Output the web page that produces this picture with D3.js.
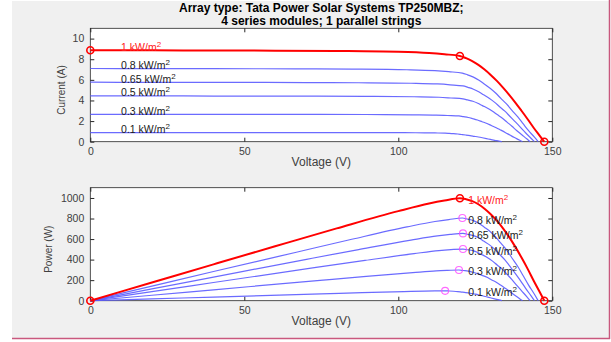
<!DOCTYPE html>
<html><head><meta charset="utf-8">
<script src="https://cdn.jsdelivr.net/npm/d3@7"></script>
<style>
html,body{margin:0;padding:0;background:#fff;}
svg{display:block;font-family:"Liberation Sans",Arial,Helvetica,sans-serif;}
</style></head>
<body><svg id="c" width="611" height="342"></svg>
<script>
// ---------- data ----------
const titleLines = ["Array type: Tata Power Solar Systems TP250MBZ;", "4 series modules; 1 parallel strings"];
const irradiance = [1, 0.8, 0.65, 0.5, 0.3, 0.1];
const irrLabels = ["1 kW/m", "0.8 kW/m", "0.65 kW/m", "0.5 kW/m", "0.3 kW/m", "0.1 kW/m"];

const V_1000 = [147.4,146,144,142,140,138,136,134,132,130,128,126,124,122,120,115,110,100,80,60,40,20,0];
const I_1000 = [0,0.55,1.33,2.18,3.0,3.8,4.55,5.25,5.9,6.48,7.0,7.45,7.82,8.10,8.32,8.48,8.60,8.72,8.80,8.83,8.85,8.86,8.87];
const P_1000 = [0,80,192,310,420,524,619,704,779,842,896,939,970,988,998,975,946,872,704,530,354,177,0];

const V_800 = [145.4,144.2,142.3,140.5,138.8,136.9,135.2,133.3,131.6,129.8,127.9,126.2,124.4,122.5,120.8,116.4,111.9,102.8,84.9,66.9,40,20,0];
const I_800 = [0,0.44,1.07,1.75,2.40,3.04,3.64,4.20,4.72,5.19,5.60,5.96,6.26,6.48,6.66,6.79,6.89,6.98,7.04,7.06,7.09,7.09,7.10];
const P_800 = [0,63,152,246,333,416,492,560,621,674,716,752,779,794,805,790,771,718,598,472,284,142,0];

const V_650 = [144.2,143.0,141.3,139.6,137.9,136.2,134.6,132.8,131.2,129.5,127.7,126.1,124.4,122.6,121.0,116.8,112.7,104.1,87.1,70.2,40,20,0];
const I_650 = [0,0.36,0.87,1.42,1.95,2.47,2.96,3.42,3.84,4.22,4.55,4.85,5.09,5.27,5.41,5.52,5.60,5.67,5.72,5.74,5.76,5.76,5.77];
const P_650 = [0,51,123,198,269,336,398,454,504,546,581,612,633,646,655,645,631,590,498,403,230,115,0];

const V_500 = [142.8,141.7,140.1,138.4,136.9,135.3,133.8,132.1,130.6,129.0,127.3,125.8,124.2,122.5,121.0,117.1,113.2,105.1,89.2,73.3,40,20,0];
const I_500 = [0,0.28,0.67,1.09,1.50,1.90,2.28,2.63,2.95,3.25,3.50,3.73,3.92,4.05,4.16,4.24,4.31,4.36,4.40,4.42,4.43,4.44,4.44];
const P_500 = [0,40,94,151,205,257,305,347,385,419,446,469,487,496,503,497,488,458,392,324,177,89,0];

const V_300 = [140.3,139.3,137.7,136.2,134.7,133.2,131.8,130.2,128.8,127.2,125.7,124.2,122.7,121.1,119.7,116.0,112.3,104.7,89.6,74.6,40,20,0];
const I_300 = [0,0.16,0.40,0.65,0.90,1.14,1.36,1.57,1.77,1.94,2.10,2.23,2.35,2.43,2.50,2.54,2.58,2.61,2.64,2.65,2.65,2.66,2.66];
const P_300 = [0,22,55,89,121,152,179,204,228,247,264,277,288,294,299,295,290,273,237,198,106,53,0];

const V_100 = [133.6,132.7,131.3,129.9,128.6,127.3,126.0,124.6,123.3,121.9,120.5,119.3,117.9,116.5,115.2,111.9,108.6,101.8,88.3,74.9,40,20,0];
const I_100 = [0,0.055,0.133,0.218,0.300,0.380,0.455,0.525,0.590,0.648,0.700,0.745,0.782,0.810,0.832,0.848,0.860,0.872,0.880,0.883,0.885,0.886,0.887];
const P_100 = [0,7.3,17.5,28.3,38.6,48.4,57.3,65.4,72.7,79.0,84.4,88.9,92.2,94.4,95.8,94.9,93.4,88.8,77.7,66.1,35.4,17.7,0];

const mppV = [120.0, 120.8, 121.0, 121.0, 119.7, 115.2];
const mppI = [8.32, 6.66, 5.41, 4.16, 2.50, 0.832];
const mppP = [998, 805, 655, 503, 299, 96];
const Isc1000 = 8.87, Voc1000 = 147.4;

const voltageTicks = [0, 50, 100, 150];
const currentTicks = [0, 2, 4, 6, 8, 10];
const powerTicks = [0, 200, 400, 600, 800, 1000];

// ---------- build ----------
const Vs = [V_1000, V_800, V_650, V_500, V_300, V_100];
const Is = [I_1000, I_800, I_650, I_500, I_300, I_100];
const Ps = [P_1000, P_800, P_650, P_500, P_300, P_100];

const svg = d3.select("#c");
svg.append("rect").attr("x", 12).attr("y", 1).attr("width", 597).attr("height", 337).attr("fill", "#f0f0f0");
svg.append("line").attr("x1", 609.5).attr("x2", 609.5).attr("y1", 0).attr("y2", 339).attr("stroke", "#c9587e").attr("stroke-width", 1.5);
svg.append("line").attr("x1", 12).attr("x2", 610).attr("y1", 338.5).attr("y2", 338.5).attr("stroke", "#c9587e").attr("stroke-width", 1.5);

const x0 = 90.3, x1 = 552.3;
const x = d3.scaleLinear().domain([0, 150]).range([x0, x1]);
const yI = d3.scaleLinear().domain([0, 11]).range([141.7, 28.3]);
const yP = d3.scaleLinear().domain([0, 1100]).range([300.7, 187.7]);

const axisColor = "#262626";
const tickColor = "#404040";
const blue = "#5b5bff";
const fmt = d3.format("d");

function drawAxes(y, yTicks, yLabel, ylabX, ylabDy) {
  const g = svg.append("g");
  const [yb, yt] = y.range();
  g.append("rect").attr("x", x0).attr("y", yt).attr("width", x1 - x0).attr("height", yb - yt).attr("fill", "#fff");
  const ax = d3.axisBottom(x).tickValues(voltageTicks).tickFormat(fmt).tickSizeInner(-4).tickSizeOuter(0).tickPadding(6);
  g.append("g").attr("transform", `translate(0,${yb})`).call(ax).call(s => {
    s.select(".domain").remove();
    s.selectAll("line").attr("stroke", axisColor);
    s.selectAll("text").attr("fill", tickColor).attr("font-size", 10.5).attr("font-family", "Liberation Sans, Arial, sans-serif");
  });
  const axT = d3.axisTop(x).tickValues(voltageTicks).tickSizeInner(-4).tickSizeOuter(0).tickFormat("");
  g.append("g").attr("transform", `translate(0,${yt})`).call(axT).call(s => {
    s.select(".domain").remove(); s.selectAll("line").attr("stroke", axisColor);
  });
  const ay = d3.axisLeft(y).tickValues(yTicks).tickFormat(fmt).tickSizeInner(-4).tickSizeOuter(0).tickPadding(6);
  g.append("g").attr("transform", `translate(${x0},0)`).call(ay).call(s => {
    s.select(".domain").remove();
    s.selectAll("line").attr("stroke", axisColor);
    s.selectAll("text").attr("fill", tickColor).attr("font-size", 10.5).attr("font-family", "Liberation Sans, Arial, sans-serif");
  });
  const ayR = d3.axisRight(y).tickValues(yTicks).tickSizeInner(-4).tickSizeOuter(0).tickFormat("");
  g.append("g").attr("transform", `translate(${x1},0)`).call(ayR).call(s => {
    s.select(".domain").remove(); s.selectAll("line").attr("stroke", axisColor);
  });
  g.append("rect").attr("x", x0).attr("y", yt).attr("width", x1 - x0).attr("height", yb - yt)
    .attr("fill", "none").attr("stroke", axisColor).attr("stroke-width", 0.8);
  g.append("text").attr("x", (x0 + x1) / 2).attr("y", yb + 24).attr("text-anchor", "middle")
    .attr("font-size", 12).attr("fill", tickColor).text("Voltage (V)");
  g.append("text").attr("transform", `translate(${ylabX},${(yb + yt) / 2 + ylabDy}) rotate(-90)`)
    .attr("text-anchor", "middle").attr("font-size", 10).attr("fill", tickColor).text(yLabel);
  return g;
}

const gTop = drawAxes(yI, currentTicks, "Current (A)", 65, 5);
const gBot = drawAxes(yP, powerTicks, "Power (W)", 52, 5);

const lineIV = d3.line().curve(d3.curveMonotoneX);
const lineTop = (k) => lineIV(Vs[k].map((v, i) => [x(v), yI(Is[k][i])]).sort((a, b) => a[0] - b[0]));
const lineBot = (k) => lineIV(Vs[k].map((v, i) => [x(v), yP(Ps[k][i])]).sort((a, b) => a[0] - b[0]));

for (let k = irradiance.length - 1; k >= 1; k--) {
  gTop.append("path").attr("d", lineTop(k)).attr("fill", "none").attr("stroke", blue).attr("stroke-opacity", 0.9).attr("stroke-width", 1.2);
  gBot.append("path").attr("d", lineBot(k)).attr("fill", "none").attr("stroke", blue).attr("stroke-opacity", 0.9).attr("stroke-width", 1.2);
}
gTop.append("path").attr("d", lineTop(0)).attr("fill", "none").attr("stroke", "#ff0000").attr("stroke-width", 2);
gBot.append("path").attr("d", lineBot(0)).attr("fill", "none").attr("stroke", "#ff0000").attr("stroke-width", 2);

const redTop = [[0, Isc1000], [mppV[0], mppI[0]], [Voc1000, 0]];
redTop.forEach(d => gTop.append("circle").attr("cx", x(d[0])).attr("cy", yI(d[1])).attr("r", 3.5)
  .attr("fill", "none").attr("stroke", "#ff0000").attr("stroke-width", 1.6));
const redBot = [[0, 0], [mppV[0], mppP[0]], [Voc1000, 0]];
redBot.forEach(d => gBot.append("circle").attr("cx", x(d[0])).attr("cy", yP(d[1])).attr("r", 3.5)
  .attr("fill", "none").attr("stroke", "#ff0000").attr("stroke-width", 1.6));
for (let k = 1; k < irradiance.length; k++) {
  gBot.append("circle").attr("cx", x(mppV[k])).attr("cy", yP(mppP[k])).attr("r", 3.5)
    .attr("fill", "none").attr("stroke", "#ff44ff").attr("stroke-opacity", 0.8).attr("stroke-width", 1.1);
}

function label(g, tx, ty, k) {
  const t = g.append("text").attr("x", tx).attr("y", ty).attr("font-size", 10.5)
    .attr("fill", k === 0 ? "#ff2020" : "#1a1a1a");
  t.append("tspan").text(irrLabels[k]);
  t.append("tspan").attr("dy", -4).attr("font-size", 8).text("2");
}
for (let k = 0; k < irradiance.length; k++) {
  label(gTop, x(10), yI(Is[k][Is[k].length - 1]) + 0.5, k);
  label(gBot, x(122.7), yP(mppP[k]) + 5.5, k);
}

titleLines.forEach((s, i) => svg.append("text").attr("x", (x0 + x1) / 2).attr("y", 12 + i * 12.5)
  .attr("text-anchor", "middle").attr("font-weight", "bold").attr("font-size", 12).attr("fill", "#000").text(s));
</script></body></html>
